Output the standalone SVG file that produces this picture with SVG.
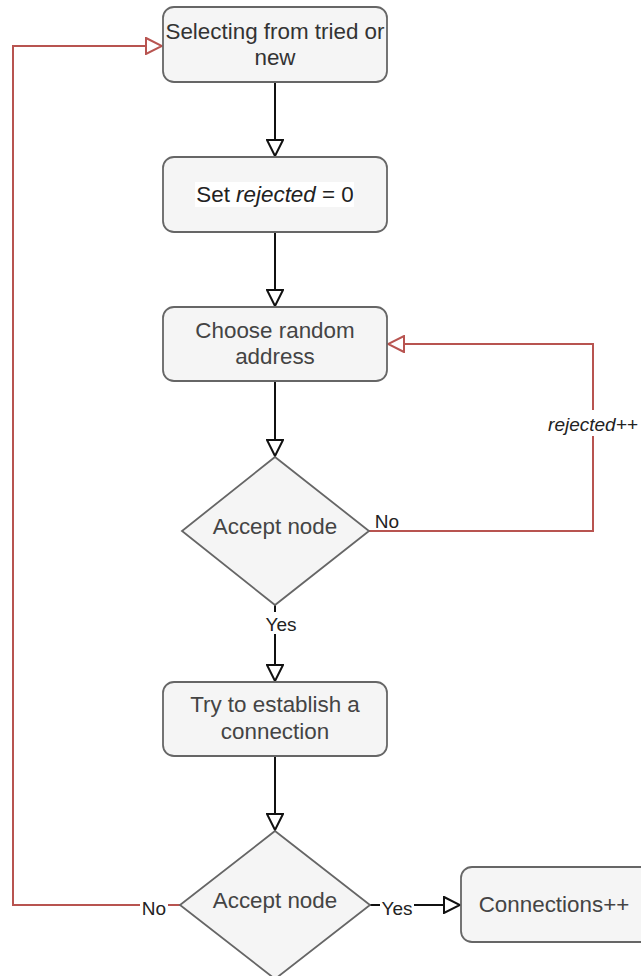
<svg xmlns="http://www.w3.org/2000/svg" width="641" height="976" viewBox="0 0 641 976">
  <style>
    .box { fill: #f5f5f5; stroke: #666666; stroke-width: 1.8; }
    .txt { font-family: "Liberation Sans", Arial, sans-serif; font-size: 22.4px; fill: #444444; text-anchor: middle; }
    .lbl { font-family: "Liberation Sans", Arial, sans-serif; font-size: 19px; fill: #222222; text-anchor: middle; }
    .edge { fill: none; stroke: #111111; stroke-width: 2; }
    .back { fill: none; stroke: #b85450; stroke-width: 2; }
    .bg { fill: #ffffff; }
  </style>
  <defs>
    <marker id="arrow" markerUnits="userSpaceOnUse" viewBox="0 0 18 18" markerWidth="18" markerHeight="18" refX="17" refY="9" orient="auto">
      <path d="M1,1 L17,9 L1,17 Z" fill="#ffffff" stroke="#111111" stroke-width="2"/>
    </marker>
    <marker id="arrowRed" markerUnits="userSpaceOnUse" viewBox="0 0 18 18" markerWidth="18" markerHeight="18" refX="17" refY="9" orient="auto">
      <path d="M1,1 L17,9 L1,17 Z" fill="#ffffff" stroke="#b85450" stroke-width="2"/>
    </marker>
  </defs>

  <g id="connectors">
    <path class="edge" d="M275,82 V156" marker-end="url(#arrow)"/>
    <path class="edge" d="M275,232 V306" marker-end="url(#arrow)"/>
    <path class="edge" d="M275,381 V456" marker-end="url(#arrow)"/>
    <path class="edge" d="M275,605 V681" marker-end="url(#arrow)"/>
    <path class="edge" d="M275,756 V830" marker-end="url(#arrow)"/>
    <path class="edge" d="M370,905 H460" marker-end="url(#arrow)"/>
    <path class="back" d="M369,531 H593 V344 H388" marker-end="url(#arrowRed)"/>
    <path class="back" d="M180,905 H13 V46 H162" marker-end="url(#arrowRed)"/>
    <!-- edge labels -->
    <text class="lbl" x="387" y="528">No</text>
    <rect class="bg" x="544" y="410" width="97" height="26"/>
    <text class="lbl" x="593" y="431" font-style="italic" font-size="20.5">rejected++</text>
    <rect class="bg" x="263" y="612" width="36" height="22"/>
    <text class="lbl" x="281" y="631">Yes</text>
    <rect class="bg" x="140" y="896" width="28" height="22"/>
    <text class="lbl" x="154" y="915">No</text>
    <rect class="bg" x="380" y="896" width="34" height="22"/>
    <text class="lbl" x="397" y="915">Yes</text>
  </g>

  <g id="select">
    <rect class="box" x="163" y="7" width="224" height="75" rx="11"/>
    <text class="txt" x="275" y="39" style="fill:#333333">Selecting from tried or</text>
    <text class="txt" x="275" y="65" style="fill:#333333">new</text>
  </g>

  <g id="reset">
    <rect class="box" x="163" y="157" width="224" height="75" rx="11"/>
    <rect class="bg" x="195" y="182" width="159" height="25"/>
    <text class="txt" x="275" y="202" style="fill:#222222">Set <tspan font-style="italic">rejected</tspan> = 0</text>
  </g>

  <g id="choose">
    <rect class="box" x="163" y="307" width="224" height="74" rx="11"/>
    <text class="txt" x="275" y="338">Choose random</text>
    <text class="txt" x="275" y="364">address</text>
  </g>

  <g id="accept1">
    <polygon class="box" points="275,457 369,531 275,605 182,531"/>
    <text class="txt" x="275" y="534">Accept node</text>
  </g>

  <g id="connect">
    <rect class="box" x="163" y="682" width="224" height="74" rx="11"/>
    <text class="txt" x="275" y="712">Try to establish a</text>
    <text class="txt" x="275" y="739">connection</text>
  </g>

  <g id="accept2">
    <polygon class="box" points="275,831 370,905 275,979 180,905"/>
    <text class="txt" x="275" y="908">Accept node</text>
  </g>

  <g id="count">
    <rect class="box" x="461" y="867" width="200" height="75" rx="11"/>
    <text class="txt" x="554" y="912">Connections++</text>
  </g>
</svg>
